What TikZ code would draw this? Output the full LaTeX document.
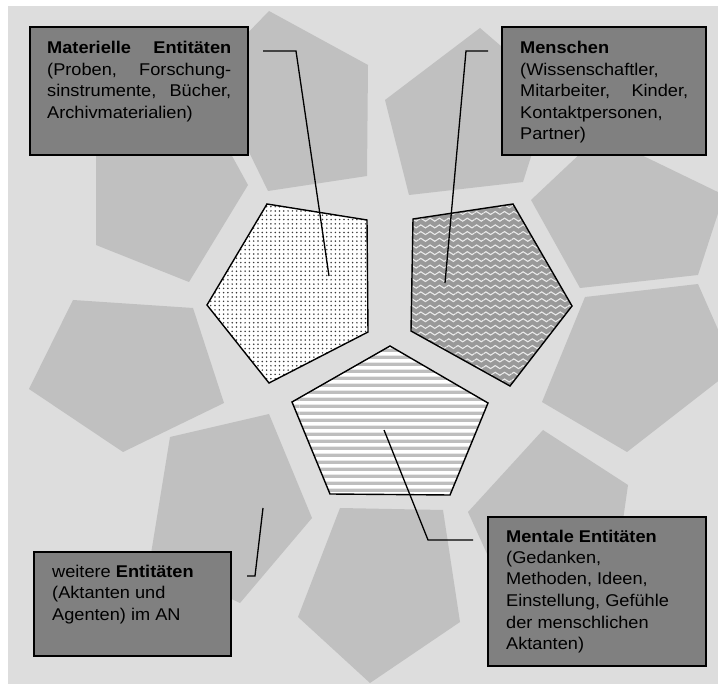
\documentclass[tikz,border=0pt]{standalone}
\usepackage{fontspec}
\setmainfont{Liberation Sans}
\usepackage{graphicx}
\usetikzlibrary{patterns}

\definecolor{pagegray}{HTML}{DDDDDD}
\definecolor{tilegray}{HTML}{C0C0C0}
\definecolor{panelgray}{HTML}{808080}
\definecolor{dotgray}{HTML}{3A3A3A}
\definecolor{wavegray}{HTML}{999999}
\definecolor{wavelight}{HTML}{EAEAEA}
\definecolor{stripegray}{HTML}{BEBEBE}

% fine dot raster
\pgfdeclarepatternformonly{finedots}{\pgfqpoint{-1pt}{-1pt}}{\pgfqpoint{1pt}{1pt}}{\pgfqpoint{4.3pt}{4.3pt}}{%
  \pgfpathcircle{\pgfqpoint{0pt}{0pt}}{0.85pt}\pgfusepath{fill}}
% soft wavy lines
\pgfdeclarepatternformonly{softwaves}{\pgfqpoint{0pt}{-0.5pt}}{\pgfqpoint{9.3pt}{4.5pt}}{\pgfqpoint{9.3pt}{6.7pt}}{%
  \pgfsetlinewidth{1.1pt}%
  \pgfpathmoveto{\pgfqpoint{0pt}{2pt}}%
  \pgfpathsine{\pgfqpoint{2.325pt}{1.5pt}}%
  \pgfpathcosine{\pgfqpoint{2.325pt}{-1.5pt}}%
  \pgfpathsine{\pgfqpoint{2.325pt}{-1.5pt}}%
  \pgfpathcosine{\pgfqpoint{2.325pt}{1.5pt}}%
  \pgfusepath{stroke}}
% horizontal bands
\pgfdeclarepatternformonly{hbands}{\pgfqpoint{0pt}{0pt}}{\pgfqpoint{300pt}{7.4pt}}{\pgfqpoint{300pt}{7.4pt}}{%
  \pgfpathrectangle{\pgfqpoint{0pt}{0pt}}{\pgfqpoint{300pt}{3.6pt}}\pgfusepath{fill}}

\newcommand{\paneltext}[1]{\scalebox{1.07}[1]{\begin{tabular}[t]{@{}l@{}}#1\end{tabular}}}

\begin{document}
\begin{tikzpicture}[x=1pt,y=-1pt,
  tile/.style={fill=tilegray},
  core/.style={draw=black,line width=1.4pt,line join=miter},
  leader/.style={draw=black,line width=1.3pt},
  panel/.style={draw=black,line width=1.4pt,fill=panelgray,anchor=north west,
    inner sep=0pt,outer sep=0pt},
  lbl/.style={anchor=base west,inner sep=0pt,
    font=\fontsize{17}{21.5}\selectfont,text=black}]

\useasboundingbox (0,0) rectangle (718,684);
\fill[white] (0,0) rectangle (718,684);
\fill[pagegray] (8,6) rectangle (718,684);

% surrounding grey pentagons
\fill[tile] (269,11) -- (368,65) -- (367,176) -- (268,191) -- (210,72) -- cycle;
\fill[tile] (96,245) -- (189,282) -- (248,185) -- (198,94) -- (96,140) -- cycle;
\fill[tile] (480,28) -- (385,100) -- (409,195) -- (523,182) -- (552,90) -- cycle;
\fill[tile] (580,288) -- (531,200) -- (600,135) -- (724,195) -- (698,275) -- cycle;
\fill[tile] (585,297) -- (698,284) -- (735,368) -- (627,452) -- (542,402) -- cycle;
\fill[tile] (543,430) -- (628,485) -- (613,590) -- (508,600) -- (468,512) -- cycle;
\fill[tile] (340,508) -- (443,510) -- (460,622) -- (370,683) -- (298,617) -- cycle;
\fill[tile] (170,437) -- (269,414) -- (312,518) -- (240,603) -- (150,560) -- cycle;
\fill[tile] (73,300) -- (193,308) -- (224,403) -- (123,452) -- (29,389) -- cycle;

% three central pentagons
\draw[core,preaction={fill=white},pattern=finedots,pattern color=dotgray]
  (267,204) -- (367,220) -- (368,332) -- (269,383) -- (207,305) -- cycle;
\draw[core,preaction={fill=wavegray},pattern=softwaves,pattern color=wavelight]
  (413,219) -- (513,204) -- (572,306) -- (510,386) -- (411,331) -- cycle;
\draw[core,preaction={fill=white},pattern=hbands,pattern color=stripegray]
  (390,346) -- (488,403) -- (450,495) -- (330,494) -- (292,402) -- cycle;

% leader lines
\coordinate (matA) at (263,51);
\coordinate (matK) at (296,51);
\coordinate (matE) at (329,276);
\coordinate (menA) at (488,51);
\coordinate (menK) at (466,51);
\coordinate (menE) at (445,283);
\coordinate (menT) at (384,430);
\coordinate (mntK) at (428,540);
\coordinate (mntE) at (473,540);
\coordinate (weiT) at (263,508);
\coordinate (weiK) at (255,576);
\coordinate (weiE) at (247,576);
\draw[leader] (matA) -- (matK) -- (matE);
\draw[leader] (menA) -- (menK) -- (menE);
\draw[leader] (menT) -- (mntK) -- (mntE);
\draw[leader] (weiT) -- (weiK) -- (weiE);

% label panels
\node[panel,minimum width=218pt,minimum height=128pt] (matbox) at (30,27) {};
\node[panel,minimum width=204pt,minimum height=128pt] (menbox) at (502,27) {};
\node[panel,minimum width=218pt,minimum height=149pt] (mntbox) at (488,517) {};
\node[panel,minimum width=197pt,minimum height=104pt] (weibox) at (34,552) {};

\node[lbl] (mattext) at (47,54) {\paneltext{%
  \makebox[172pt][s]{\textbf{Materielle Entitäten}}\\
  \makebox[172pt][s]{(Proben, Forschung-}\\
  \makebox[172pt][s]{sinstrumente, Bücher,}\\
  Archivmaterialien)}};
\node[lbl] (mentext) at (520,54) {\paneltext{%
  \textbf{Menschen}\\
  (Wissenschaftler,\\
  \makebox[157pt][s]{Mitarbeiter, Kinder,}\\
  Kontaktpersonen,\\
  Partner)}};
\node[lbl] (mnttext) at (506,542) {\paneltext{%
  \textbf{Mentale Entitäten}\\
  (Gedanken,\\
  Methoden, Ideen,\\
  Einstellung, Gefühle\\
  der menschlichen\\
  Aktanten)}};
\node[lbl] (weitext) at (52,577) {\paneltext{%
  weitere \textbf{Entitäten}\\
  (Aktanten und\\
  Agenten) im AN}};
\end{tikzpicture}
\end{document}
